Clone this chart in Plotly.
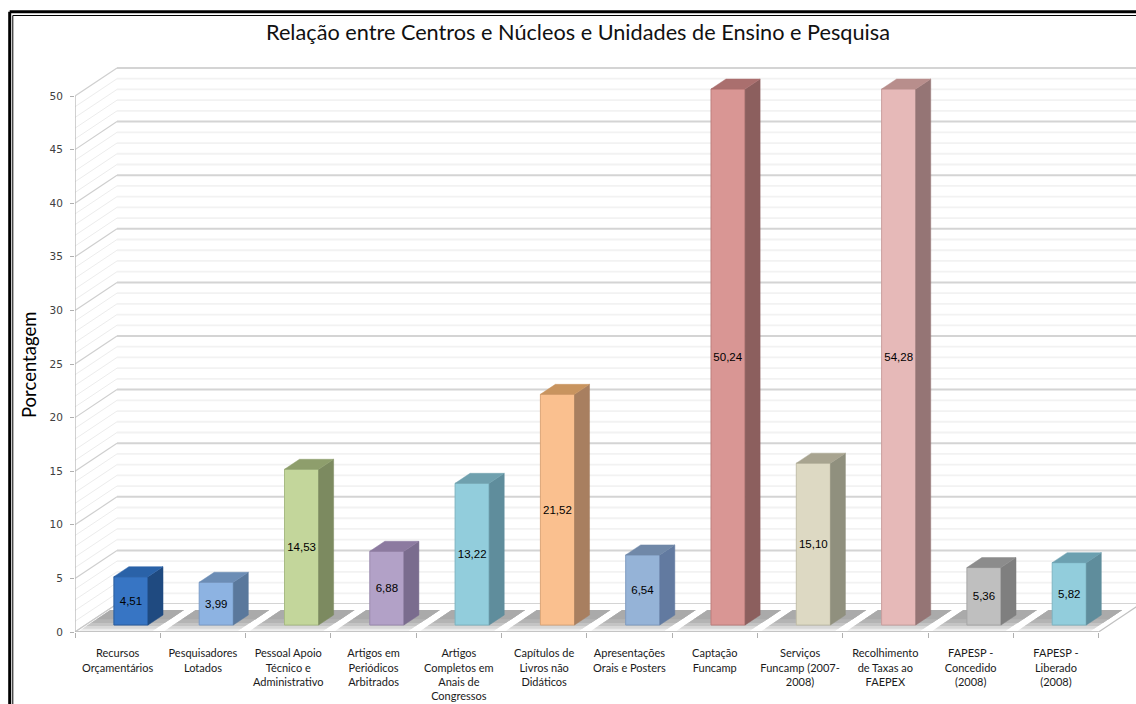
import plotly.graph_objects as go

# ---- data ----
TITLE = "Relação entre Centros e Núcleos e Unidades de Ensino e Pesquisa"
Y_TITLE = "Porcentagem"
categories = [
    "Recursos<br>Orçamentários", "Pesquisadores<br>Lotados",
    "Pessoal Apoio<br>Técnico e<br>Administrativo", "Artigos em<br>Periódicos<br>Arbitrados",
    "Artigos<br>Completos em<br>Anais de<br>Congressos", "Capítulos de<br>Livros não<br>Didáticos",
    "Apresentações<br>Orais e Posters", "Captação<br>Funcamp",
    "Serviços<br>Funcamp (2007-<br>2008)", "Recolhimento<br>de Taxas ao<br>FAEPEX",
    "FAPESP -<br>Concedido<br>(2008)", "FAPESP -<br>Liberado<br>(2008)",
]
values = [4.51, 3.99, 14.53, 6.88, 13.22, 21.52, 6.54, 50.24, 15.10, 54.28, 5.36, 5.82]
y_ticks = [0, 5, 10, 15, 20, 25, 30, 35, 40, 45, 50]
front_colors = ["#3775c4", "#8db3e2", "#c3d69b", "#b2a1c7", "#92cddc", "#fac08f",
                "#95b3d7", "#d99694", "#ddd9c3", "#e6b9b8", "#bfbfbf", "#92cddc"]
side_colors = ["#1f4a80", "#5a789c", "#7c8a60", "#7a6c8e", "#5f8d9c", "#a87f60",
               "#627aa0", "#8c5f5e", "#90907e", "#957575", "#7f7f7f", "#5f8d9c"]
top_colors = ["#2a62a8", "#6c8db5", "#8e9e6c", "#8c7aa0", "#6fa0ae", "#c8945f",
              "#7088a8", "#aa6f6e", "#a8a490", "#b88e8c", "#8c8c8c", "#6ca0b0"]
border_colors = ["#2a5c9c", "#7a9cc8", "#a8bb84", "#9a8aae", "#7db4c2", "#dca678",
                 "#7f9cc0", "#bd7f7d", "#c2bea8", "#c99f9e", "#a6a6a6", "#7db4c2"]

# ---- geometry of the 3-D look, in axis units ----
W, H = 1136, 704
L, B = 75, 72
AXIS_MAX = 50
X_MAX = (W - L) / 85.3
Y_MAX = (H - B) / 10.72
DX, DY = 42 / 85.3, 28 / 10.72        # depth of the wall / floor
BAR_W, BAR_X = 0.40, 0.656            # bar width and centre inside a category
BAR_BASE = 0.65                       # bars stand back from the front edge
BDX, BDY = 15 / 85.3, 10 / 10.72      # depth of a bar
n = len(categories)


def px(x):
    return (x - L) / (W - L)


def py(y):
    return (H - B - y) / (H - B)


def line(x0, y0, x1, y1, color, width, layer="below"):
    return dict(type="line", xref="x", yref="y", x0=x0, y0=y0, x1=x1, y1=y1,
                line=dict(color=color, width=width), layer=layer)


def poly(points, color):
    path = "M " + " L ".join(f"{a},{b}" for a, b in points) + " Z"
    return dict(type="path", xref="x", yref="y", path=path, fillcolor=color,
                line=dict(width=0), layer="below")


shapes = []
# walls: minor then major grid lines
for v in range(0, AXIS_MAX + 1):
    major = v % 5 == 0
    color = "#d4d4d4" if major else "#f2f2f2"
    width = 2 if major else 1.8
    shapes.append(line(DX, v + DY, n + DX, v + DY, color, width))
    shapes.append(line(0, v, DX, v + DY, "#cfcfcf" if major else "#ececec", 1.2 if major else 1))

# floor and bar shadows
shapes.append(poly([(0, 0), (n, 0), (n + DX, DY), (DX, DY)], "#ffffff"))
for i in range(n):
    for y0, col in ((0.12, "#ececec"), (0.3, "#d8d8d8"), (0.55, "#c4c4c4"),
                    (0.85, "#b4b4b4"), (1.2, "#aaaaaa")):
        y1 = 2.05
        xa = i + 0.03 + y0 * DX / DY
        xb = i + 0.03 + y1 * DX / DY
        w = 0.86
        shapes.append(poly([(xa, y0), (xa + w, y0), (xb + w, y1), (xb, y1)], col))
shapes.append(line(0, 0, DX, DY, "#c8c8c8", 1.2))
shapes.append(line(n, 0, n + DX, DY, "#c0c0c0", 1.2))
shapes.append(line(0, 0, n, 0, "#c4c4c4", 2))
shapes.append(line(0, 0, 0, AXIS_MAX, "#b2b2b2", 1.2))

# picture frame (left and top only are in view)
for x_px, y_px, w in ((9.7, 11.7, 3), (12.8, 15.5, 1)):
    shapes.append(dict(type="line", xref="paper", yref="paper", x0=px(x_px), x1=px(x_px),
                       y0=py(y_px), y1=py(H), line=dict(color="#000000", width=w)))
    shapes.append(dict(type="line", xref="paper", yref="paper", x0=px(x_px), x1=px(W),
                       y0=py(y_px), y1=py(y_px), line=dict(color="#000000", width=w)))

fig = go.Figure()
clipped = [min(v, AXIS_MAX) for v in values]
labels = [f"{v:.2f}".replace(".", ",") for v in values]
centers = [i + BAR_X for i in range(n)]

fig.add_trace(go.Bar(
    x=centers, y=clipped, base=BAR_BASE, width=BAR_W,
    marker=dict(color=front_colors, line=dict(color=border_colors, width=1)),
    text=labels, textposition="inside", insidetextanchor="middle", textangle=0,
    constraintext="none",
    textfont=dict(family="Liberation Sans", size=11.5, color="#000000"),
    hoverinfo="skip", showlegend=False,
))

for c, h, side, top in zip(centers, clipped, side_colors, top_colors):
    x1 = c + BAR_W / 2
    x0 = c - BAR_W / 2
    y0 = BAR_BASE
    y1 = BAR_BASE + h
    fig.add_trace(go.Scatter(
        x=[x1, x1 + BDX, x1 + BDX, x1, x1], y=[y0, y0 + BDY, y1 + BDY, y1, y0],
        mode="lines", fill="toself", fillcolor=side, line=dict(color=side, width=0.5),
        hoverinfo="skip", showlegend=False))
    fig.add_trace(go.Scatter(
        x=[x0, x1, x1 + BDX, x0 + BDX, x0], y=[y1, y1, y1 + BDY, y1 + BDY, y1],
        mode="lines", fill="toself", fillcolor=top, line=dict(color=top, width=0.5),
        hoverinfo="skip", showlegend=False))

fig.update_layout(
    width=W, height=H, autosize=False,
    margin=dict(l=L, r=0, t=0, b=B, pad=0),
    paper_bgcolor="#ffffff", plot_bgcolor="#ffffff",
    title=dict(text=TITLE, x=578 / W, y=1 - 32 / H, xanchor="center", yanchor="middle",
               font=dict(family="Lato", size=21.7, color="#111111")),
    shapes=shapes,
    annotations=[dict(text=Y_TITLE, xref="paper", yref="paper", x=px(29), y=py(365),
                      xanchor="center", yanchor="middle", textangle=-90, showarrow=False,
                      font=dict(family="Lato", size=18.5, color="#000000"))],
    xaxis=dict(
        range=[0, X_MAX], showgrid=False, zeroline=False, showline=False,
        tickmode="array", tickvals=[i + 0.5 for i in range(n)], ticktext=categories,
        ticks="outside", ticklen=11, tickcolor="rgba(0,0,0,0)", tickangle=0,
        tickfont=dict(family="Lato", size=11, color="#1a1a1a"),
        minor=dict(tickmode="array", tickvals=list(range(n + 1)), ticks="outside",
                   ticklen=5, tickcolor="#b0b0b0", tickwidth=1, showgrid=False),
        automargin=False,
    ),
    yaxis=dict(
        range=[0, Y_MAX], showgrid=False, zeroline=False, showline=False,
        tickmode="array", tickvals=y_ticks, ticks="outside", ticklen=4,
        tickcolor="#b0b0b0", tickwidth=1, ticklabelstandoff=5,
        tickfont=dict(family="DejaVu Sans", size=10.5, color="#404040"),
        automargin=False,
    ),
)

fig.write_html("out.html", config=dict(displayModeBar=False),
               post_script="document.body.style.margin='0';document.body.style.overflow='hidden';")
